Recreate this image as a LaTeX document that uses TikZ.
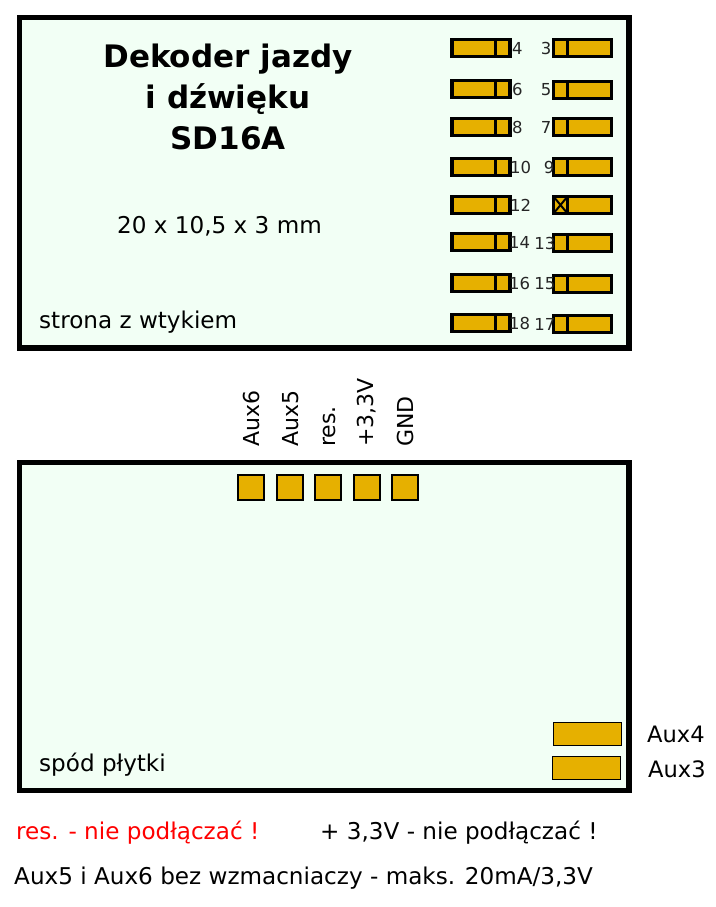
\documentclass[tikz,border=0pt]{standalone}
\usepackage{fontspec}
\setmainfont{DejaVu Sans}
\usetikzlibrary{positioning}
\definecolor{boardgreen}{HTML}{F2FFF5}
\definecolor{padgold}{HTML}{E6B000}

\begin{document}
\begin{tikzpicture}[x=1pt,y=-1pt,
    board/.style={draw=black,fill=boardgreen,line width=5.5pt},
    pad/.style={draw=black,fill=padgold,line width=3.4pt,minimum width=58pt,minimum height=17pt,inner sep=0pt,outer sep=0pt},
    smallpad/.style={draw=black,fill=padgold,line width=2pt,minimum width=26pt,minimum height=25pt,inner sep=0pt,outer sep=0pt},
    auxpad/.style={draw=black,fill=padgold,line width=1pt,minimum width=68pt,minimum height=23pt,inner sep=0pt,outer sep=0pt},
    pinlabel/.style={font=\fontsize{16.5}{16.5}\selectfont,inner sep=0pt,text=black!85},
    note/.style={font=\fontsize{23.1}{26}\selectfont,inner sep=0pt,anchor=west},
    title/.style={font=\fontsize{31}{41}\selectfont\bfseries,align=center,inner sep=0pt},
    signal/.style={font=\fontsize{22}{24}\selectfont,inner sep=0pt,rotate=90,anchor=west}]
  \newcommand*{\PadLeft}{481}
  \newcommand*{\PadRight}{582.5}
  \useasboundingbox (0,0) rectangle (715,907);
  \fill[white] (0,0) rectangle (715,907);
  % boards
  \draw[board] (19.5,17.5) rectangle (629,348);
  \draw[board] (19.5,462.5) rectangle (629,790.5);
  \node[title] (name) at (228,97) {Dekoder jazdy\\i dźwięku\\SD16A};
  \node[note] (size) at (117,226) {20 x 10,5 x 3 mm};
  \node[note] (side) at (39,322) {strona z wtykiem};
  \node[note] (under) at (39,765) {spód płytki};
  % connector pins, left column
  \foreach \Num/\Row/\Gap in {4/48/2,6/89/2,8/127/2,10/167/0,12/205/0,14/242/-1,16/283/-1,18/323/-1} {
    \node[pad] (pin\Num) at (\PadLeft,\Row) {};
    \draw[line width=2.8pt] ([xshift=-14.5pt]pin\Num.north east) -- ([xshift=-14.5pt]pin\Num.south east);
    \node[pinlabel,anchor=west,right=\Gap pt of pin\Num] (num\Num) {\Num};
  }
  % connector pins, right column
  \foreach \Num/\Row/\Gap in {3/48/2,5/90/2,7/127/2,9/167/-1,13/243/-2,15/284/-2,17/324/-2} {
    \node[pad] (pin\Num) at (\PadRight,\Row) {};
    \draw[line width=2.8pt] ([xshift=14pt]pin\Num.north west) -- ([xshift=14pt]pin\Num.south west);
    \node[pinlabel,anchor=east,left=\Gap pt of pin\Num] (num\Num) {\Num};
  }
  \node[pad] (pin11) at (\PadRight,205) {};
  \draw[line width=2.8pt] ([xshift=14pt]pin11.north west) -- ([xshift=14pt]pin11.south west);
  \draw[line width=2pt] (pin11.north west) -- ([xshift=14pt]pin11.south west);
  \draw[line width=2pt] (pin11.south west) -- ([xshift=14pt]pin11.north west);
  % pads on the underside
  \foreach \Name/\Col in {six/251,five/289.5,rsv/328,pwr/367,gnd/404.5} {
    \node[smallpad] (pad\Name) at (\Col,487.5) {};
  }
  \node[signal] (labsix) at (251,447) {Aux6};
  \node[signal] (labfive) at (290.5,447) {Aux5};
  \node[signal] (labrsv) at (329,447) {res.};
  \node[signal] (labpwr) at (367,447) {+3,3V};
  \node[signal] (labgnd) at (405.5,447) {GND};
  \node[auxpad] (padfour) at (587.5,733.5) {};
  \node[auxpad] (padthree) at (586.5,768) {};
  \node[note,font=\fontsize{22.6}{26}\selectfont] (labfour) at (647,734) {Aux4};
  \node[note,font=\fontsize{22.6}{26}\selectfont] (labthree) at (648,769) {Aux3};
  % warnings
  \node[note,text=red] (warnres) at (16,833) {res. - nie podłączać !};
  \node[note] (warnpwr) at (320,833) {+ 3,3V - nie podłączać !};
  \node[note] (warnaux) at (14,878) {Aux5 i Aux6 bez wzmacniaczy - maks. 20mA/3,3V};
\end{tikzpicture}
\end{document}
